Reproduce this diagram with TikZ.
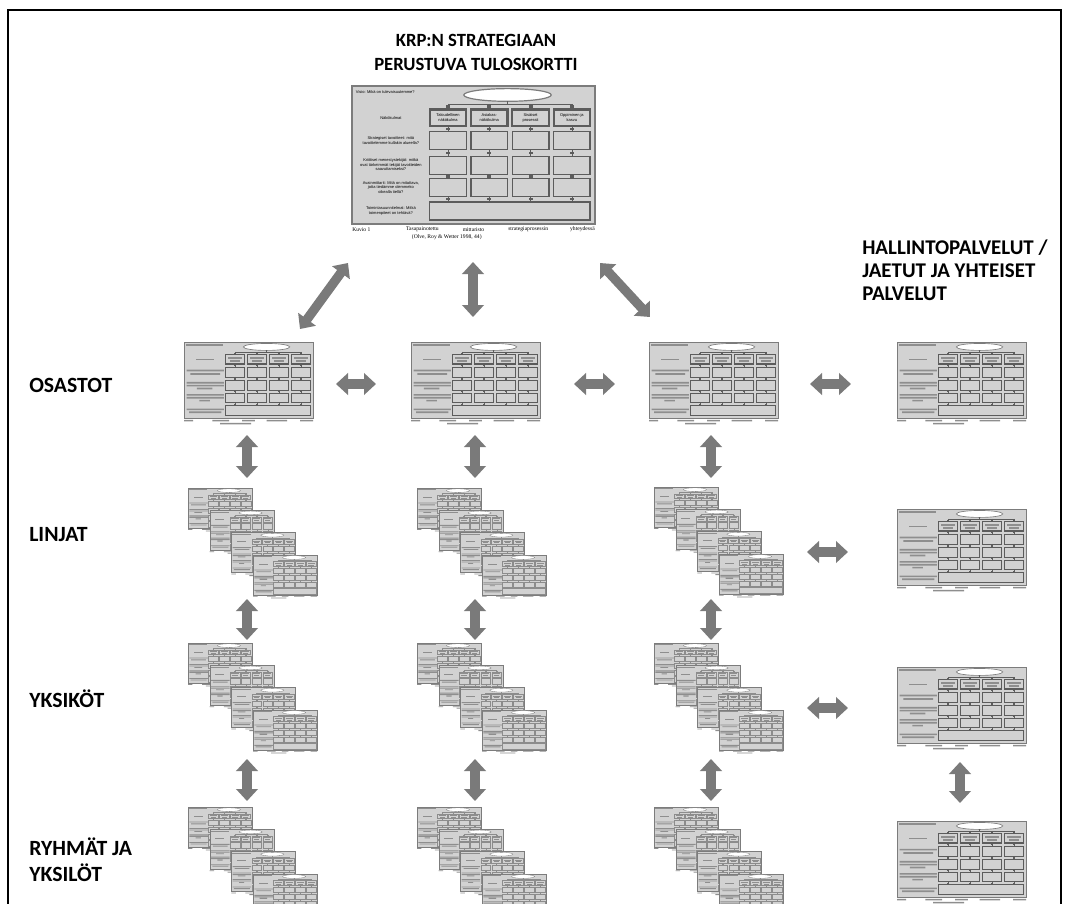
\documentclass[tikz,border=0pt]{standalone}
\usepackage{fontspec}
\setmainfont{Carlito}
\newfontfamily\cardsans{Liberation Sans}
\newfontfamily\capserif{Liberation Serif}
\usetikzlibrary{arrows.meta}
\definecolor{cardfill}{HTML}{D2D2D2}
\definecolor{cardedge}{HTML}{7C7C7C}
\definecolor{boxedge}{HTML}{5C5C5C}
\definecolor{boxedgelight}{HTML}{8C8C8C}
\definecolor{barcol}{HTML}{8E8E8E}
\definecolor{arrowgray}{HTML}{7A7A7A}
\tikzset{
  barrow/.style={draw=arrowgray, line width=7pt, {Triangle[length=9pt,width=16pt]}-{Triangle[length=9pt,width=16pt]}},
  lbl/.style={font=\fontsize{16.3}{19.5}\selectfont\bfseries, inner sep=0pt, anchor=base west},
  ttl/.style={font=\fontsize{14}{18}\selectfont\bfseries, inner sep=0pt, align=center},
  cardnode/.style={inner sep=0pt, draw=none},
  ct/.style={font=\fontsize{3}{3.5}\selectfont\cardsans, inner sep=0pt, align=center},
  capt/.style={font=\fontsize{4.2}{5}\selectfont\capserif, inner sep=0pt},
}
\newcommand\cardbody[1]{%
  \fill[white] (0,100) rectangle (100,112);
  \fill[cardfill] (0,0) rectangle (100,100);
  \draw[edgel] (0,0) rectangle (100,100);
  \draw[edgel, fill=white] (64,6.5) ellipse [x radius=18, y radius=4.6];
  \draw[thinl] (64,11.1) -- (64,13) (39.5,13) -- (90.5,13);
  \foreach \xc in {39.5,56.5,73.5,90.5}{%
    \draw[thinl] (\xc,13) -- (\xc,17) (\xc,29) -- (\xc,33) (\xc,46) -- (\xc,51) (\xc,64) -- (\xc,67) (\xc,80) -- (\xc,84);
    \foreach \yd in {15,31,48.5,65.5,82}{\fill[\bxcol] (\xc-0.8,\yd-0.9) rectangle (\xc+0.8,\yd+0.9);}
  }
  \foreach \xa in {32,49,66,83}{%
    \draw[hboxl] (\xa,17) rectangle ++(15,12);
    \draw[boxl] (\xa,33) rectangle ++(15,13);
    \draw[boxl] (\xa,51) rectangle ++(15,13);
    \draw[boxl] (\xa,67) rectangle ++(15,13);
  }
  \draw[boxl] (32,84) rectangle (98,97);
  \ifnum#1=1
    \node[ct, anchor=west] (bvis) at (1.5,4.5) {Visio: Mikä on tulevaisuutemme?};
    \node[ct] (bnak) at (16,23) {Näkökulmat};
    \node[ct] (bc1) at (39.5,23) {Taloudellinen\\näkökulma};
    \node[ct] (bc2) at (56.5,23) {Asiakas-\\näkökulma};
    \node[ct] (bc3) at (73.5,23) {Sisäiset\\prosessit};
    \node[ct] (bc4) at (90.5,23) {Oppiminen ja\\kasvu};
    \node[ct] (br2) at (16,39.5) {Strategiset tavoitteet: mitä\\tavoittelemme kullakin alueella?};
    \node[ct] (br3) at (16,57) {Kriittiset menestystekijät: mitkä\\ovat tärkeimmät tekijät tavoitteiden\\saavuttamiseksi?};
    \node[ct] (br4) at (16,73.5) {Avainmittarit: Mitä on mitattava,\\jotta tiedämme olemmeko\\oikealla tiellä?};
    \node[ct] (br5) at (16,90.5) {Toimintasuunnitelmat: Mitkä\\toimenpiteet on tehtävä?};
    \node[capt, anchor=west] (bk1) at (0,104) {Kuvio 1};
    \node[capt] (bk2) at (29,104) {Tasapainotettu};
    \node[capt] (bk3) at (50,104) {mittaristo};
    \node[capt] (bk4) at (72.5,104) {strategiaprosessin};
    \node[capt, anchor=east] (bk5) at (100,104) {yhteydessä};
    \node[capt] (bk6) at (39,109.8) {(Olve, Roy \& Wetter 1998, 44)};
  \else
    \fill[barcol] (1.5,3) rectangle (30,5.5);
    \fill[barcol] (9,21.8) rectangle (23,24.2);
    \foreach \xa in {32,49,66,83}{\fill[barcol] (\xa+2,20) rectangle (\xa+13,22); \fill[barcol] (\xa+3.5,24) rectangle (\xa+11.5,26);}
    \fill[barcol] (2,36.5) rectangle (31,38.7) (5,41) rectangle (28,43.2);
    \fill[barcol] (2,52.5) rectangle (31,54.7) (2,56.3) rectangle (31,58.5) (10,60) rectangle (22,62.2);
    \fill[barcol] (2,68.5) rectangle (31,70.7) (2,72.3) rectangle (31,74.5) (12,76) rectangle (20,78.2);
    \fill[barcol] (2,87.5) rectangle (31,89.7) (4,91.3) rectangle (29,93.5);
    \fill[barcol] (0,102.5) rectangle (7,104.5) (22,102.5) rectangle (35,104.5) (45,102.5) rectangle (55,104.5) (64,102.5) rectangle (80,104.5) (90,102.5) rectangle (100,104.5) (28,106.5) rectangle (52,108.5);
  \fi
}
\newcommand\scorecard[6]{%
  \pgfmathsetmacro\scx{#4/100}%
  \pgfmathsetmacro\scy{#5/100}%
  \pgfmathsetmacro\sclw{#4/243}%
  \ifdim#4pt<100pt \def\bxcol{boxedgelight}\else\def\bxcol{boxedge}\fi
  \begin{scope}[shift={(#2,#3)}, xscale=\scx, yscale=\scy,
     edgel/.style={draw=cardedge, line width=\sclw*0.9pt},
     boxl/.style={draw=\bxcol, line width=\sclw*1.0pt},
     hboxl/.style={draw=\bxcol, line width=\sclw*1.6pt},
     thinl/.style={draw=\bxcol, line width=\sclw*0.6pt}]
    \cardbody{#6}
  \end{scope}
  \node[cardnode, minimum width=#4*0.75pt, minimum height=#5*0.75pt] (#1) at ({#2+#4/2},{#3+#5/2}) {};
}
\newcommand\cardstack[3]{%
  \foreach \k in {0,1,2,3}{\scorecard{#1-\k}{#2+21.7*\k}{#3+22.3*\k}{64}{40}{0}}%
}
\begin{document}
\begin{tikzpicture}[x=0.75pt, y=-0.75pt]
\useasboundingbox (0,0) rectangle (1065,904);
\fill[white] (0,0) rectangle (1065,904);
\draw[line width=1.7pt] (8,10) rectangle (1061,1000);

% titles and labels
\node[ttl] (title) at (476,52) {KRP:N STRATEGIAAN\\PERUSTUVA TULOSKORTTI};
\node[lbl, anchor=west, align=left, font=\fontsize{15.7}{17.3}\selectfont\bfseries] (hallinto) at (862,270) {HALLINTOPALVELUT /\\JAETUT JA YHTEISET\\PALVELUT};
\node[lbl] (osastot) at (29,392) {OSASTOT};
\node[lbl] (linjat) at (29,541) {LINJAT};
\node[lbl] (yksikot) at (29,707) {YKSIKÖT};
\node[lbl] (ryhmat) at (29,855) {RYHMÄT JA};
\node[lbl] (yksilot) at (29,881) {YKSILÖT};

% main scorecard
\scorecard{main}{352}{86}{243}{138}{1}

% department cards
\scorecard{os1}{184}{342}{129}{76}{0}
\scorecard{os2}{411}{342}{129}{76}{0}
\scorecard{os3}{649}{342}{129}{76}{0}
\scorecard{os4}{897}{342}{129}{76}{0}
\scorecard{hp2}{897}{509}{129}{76}{0}
\scorecard{hp3}{897}{667}{129}{76}{0}
\scorecard{hp4}{897}{821}{129}{76}{0}

% stacks
\cardstack{li1}{188}{488}
\cardstack{li2}{417}{488}
\cardstack{li3}{654}{487}
\cardstack{yk1}{188}{643}
\cardstack{yk2}{417}{643}
\cardstack{yk3}{654}{643}
\cardstack{ry1}{188}{807}
\cardstack{ry2}{417}{807}
\cardstack{ry3}{654}{807}

% arrow end points
\coordinate (ta1a) at (300,329); \coordinate (ta1b) at (348,263);
\coordinate (ta2a) at (473,262); \coordinate (ta2b) at (473,317);
\coordinate (ta3a) at (600,263); \coordinate (ta3b) at (650,317);
\foreach \n/\xa/\xb in {1/336/376, 2/574/615, 3/810/851}{
  \coordinate (h\n a) at (\xa,384); \coordinate (h\n b) at (\xb,384);}
\foreach \n/\xv in {1/247, 2/475, 3/711}{
  \coordinate (v\n a) at (\xv,435); \coordinate (v\n b) at (\xv,478);
  \coordinate (w\n a) at (\xv,599); \coordinate (w\n b) at (\xv,640);
  \coordinate (u\n a) at (\xv,759); \coordinate (u\n b) at (\xv,801);}
\coordinate (r1a) at (807,552); \coordinate (r1b) at (848,552);
\coordinate (r2a) at (807,708); \coordinate (r2b) at (848,708);
\coordinate (r3a) at (960,762); \coordinate (r3b) at (960,803);

% arrows
\draw[barrow] (ta1a) -- (ta1b);
\draw[barrow] (ta2a) -- (ta2b);
\draw[barrow] (ta3a) -- (ta3b);
\foreach \n in {1,2,3}{
  \draw[barrow] (h\n a) -- (h\n b);
  \draw[barrow] (v\n a) -- (v\n b);
  \draw[barrow] (w\n a) -- (w\n b);
  \draw[barrow] (u\n a) -- (u\n b);}
\draw[barrow] (r1a) -- (r1b);
\draw[barrow] (r2a) -- (r2b);
\draw[barrow] (r3a) -- (r3b);
\end{tikzpicture}
\end{document}
